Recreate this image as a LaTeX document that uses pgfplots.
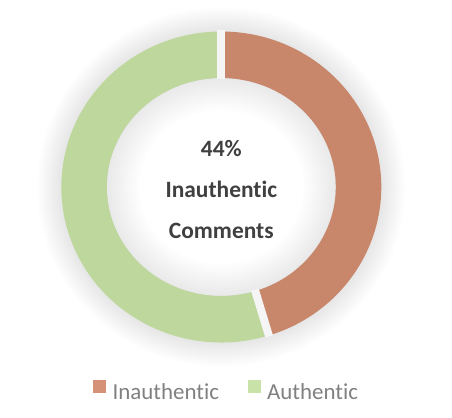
\documentclass[border=0pt]{standalone}
\usepackage{pgfplots}
\pgfplotsset{compat=1.18}
\usepackage{pgfplotstable}
\usepackage{fontspec}
\setmainfont{Carlito}[Ligatures=NoCommon]
\usetikzlibrary{calc}

\definecolor{inauth}{RGB}{200,134,106}
\definecolor{auth}{RGB}{190,215,156}
\definecolor{inauthkey}{RGB}{214,146,118}
\definecolor{authkey}{RGB}{200,226,168}
\definecolor{labeltext}{RGB}{64,64,64}
\definecolor{legendtext}{RGB}{128,128,128}

% share of comments, in percent
\pgfplotstableread{
label value
Inauthentic 45.2
Authentic 54.8
}\shares

\begin{document}
\begin{tikzpicture}
\useasboundingbox (-221.3bp,-231bp) rectangle (230.7bp,187bp);
\pgfplotstablegetelem{0}{value}\of\shares
\pgfmathsetmacro{\split}{90-3.6*\pgfplotsretval}

% soft shadow round the ring
\foreach \r in {24,22,...,2}
  \fill[black,opacity=0.008] (0,0) ellipse[x radius=160bp+\r bp, y radius=155.5bp+\r bp];
\fill[white] (0,0) ellipse[x radius=114.5bp, y radius=109bp];
\foreach \r in {2,5,...,32}
  \fill[black,opacity=0.009,even odd rule] (0,0) ellipse[x radius=116bp, y radius=110.5bp]
    (0,0) ellipse[x radius=114.5bp-\r bp, y radius=109bp-\r bp];

\begin{axis}[
    at={(0,0)}, anchor=center,
    scale only axis,
    width=320bp, height=311bp,
    xmin=-1, xmax=1, ymin=-1, ymax=1,
    hide axis, clip=false,
    legend columns=2,
    legend style={at={(axis cs:0.034,-1.316)}, anchor=center,
        draw=none, fill=none,
        font=\fontsize{23}{27}\selectfont, text=legendtext,
        /tikz/every even column/.append style={column sep=27bp}},
    legend image code/.code={\fill[#1,draw=none] (0bp,-0.5bp) rectangle (13bp,12.5bp);
        \path (17bp,0bp);},
]
\addlegendimage{fill=inauthkey}
\addlegendentry{Inauthentic}
\addlegendimage{fill=authkey}
\addlegendentry{Authentic}

\fill[inauth] ($(axis cs:0,0)+(90:160bp and 155.5bp)$)
    arc[start angle=90, end angle=\split, x radius=160bp, y radius=155.5bp]
    -- ($(axis cs:0,0)+(\split:114.5bp and 109bp)$)
    arc[start angle=\split, end angle=90, x radius=114.5bp, y radius=109bp] -- cycle;
\fill[auth] ($(axis cs:0,0)+(\split:160bp and 155.5bp)$)
    arc[start angle=\split, end angle=-270, x radius=160bp, y radius=155.5bp]
    -- ($(axis cs:0,0)+(-270:114.5bp and 109bp)$)
    arc[start angle=-270, end angle=\split, x radius=114.5bp, y radius=109bp] -- cycle;
\draw[white!96!black, line width=8bp] ($(axis cs:0,0)+(90:113bp and 107.5bp)$) -- ($(axis cs:0,0)+(90:161bp and 156.5bp)$);
\draw[white!96!black, line width=8bp] ($(axis cs:0,0)+(\split:113bp and 107.5bp)$) -- ($(axis cs:0,0)+(\split:161bp and 156.5bp)$);

\node[anchor=base, font=\bfseries\fontsize{23.5}{28}\selectfont, text=labeltext] at (axis cs:0,0.199) {44\%};
\node[anchor=base, font=\bfseries\fontsize{23.5}{28}\selectfont, text=labeltext] at (axis cs:0,-0.066) {Inauthentic};
\node[anchor=base, font=\bfseries\fontsize{23.5}{28}\selectfont, text=labeltext] at (axis cs:0,-0.33) {Comments};
\end{axis}
\end{tikzpicture}
\end{document}
